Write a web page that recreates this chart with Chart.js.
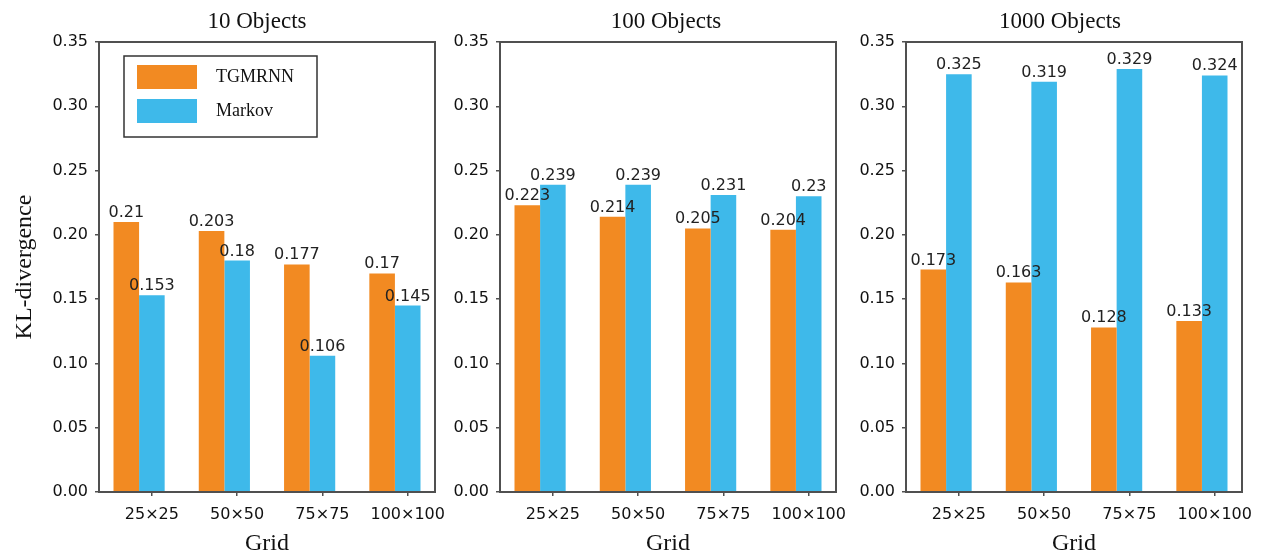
<!DOCTYPE html>
<html>
<head>
<meta charset="utf-8">
<script src="https://cdn.jsdelivr.net/npm/chart.js@4.4.1/dist/chart.umd.min.js"></script>
<style>
  html, body { margin: 0; padding: 0; background: #fff; overflow: hidden; }
  body { width: 1261px; height: 554px; position: relative; }
  .panel { position: absolute; top: 0; height: 554px; }
</style>
</head>
<body>
<div class="panel" id="p1" style="left:0px;width:515px;"><canvas id="c1"></canvas></div>
<div class="panel" id="p2" style="left:440px;width:452px;"><canvas id="c2"></canvas></div>
<div class="panel" id="p3" style="left:857px;width:406px;"><canvas id="c3"></canvas></div>
<script>
'use strict';
const gridLabels = ['25×25', '50×50', '75×75', '100×100'];
const panelTitles = ['10 Objects', '100 Objects', '1000 Objects'];
const seriesNames = ['TGMRNN', 'Markov'];
const tgmrnn10 = [0.21, 0.203, 0.177, 0.17];
const markov10 = [0.153, 0.18, 0.106, 0.145];
const tgmrnn100 = [0.223, 0.214, 0.205, 0.204];
const markov100 = [0.239, 0.239, 0.231, 0.23];
const tgmrnn1000 = [0.173, 0.163, 0.128, 0.133];
const markov1000 = [0.325, 0.319, 0.329, 0.324];
const yTicks = [0, 0.05, 0.1, 0.15, 0.2, 0.25, 0.3, 0.35];

const orange = '#f28a22';
const blue = '#3eb9ea';
const axisColor = '#505050';

// box around the plot area
const framePlugin = {
  id: 'frame',
  afterDatasetsDraw(chart) {
    const a = chart.chartArea;
    const ctx = chart.ctx;
    ctx.save();
    ctx.strokeStyle = axisColor;
    ctx.lineWidth = 2;
    ctx.strokeRect(a.left, a.top, a.right - a.left, a.bottom - a.top);
    ctx.restore();
  }
};

// value on top of every bar
const valuePlugin = {
  id: 'values',
  afterDatasetsDraw(chart) {
    const ctx = chart.ctx;
    ctx.save();
    ctx.font = '16px "DejaVu Sans"';
    ctx.fillStyle = '#222';
    ctx.textAlign = 'center';
    ctx.textBaseline = 'alphabetic';
    chart.data.datasets.forEach((ds, i) => {
      chart.getDatasetMeta(i).data.forEach((bar, j) => {
        ctx.fillText(String(ds.data[j].y), bar.x, bar.y - 5);
      });
    });
    ctx.restore();
  }
};

// move the title so it sits where the original has it
const titleShiftPlugin = {
  id: 'titleShift',
  afterLayout(chart, args, opts) {
    const t = chart.titleBlock;
    if (!t || opts.center === undefined) return;
    const half = (t.right - t.left) / 2;
    t.left = opts.center - half;
    t.right = opts.center + half;
  }
};

// boxed legend in the upper left of the first panel
const boxLegendPlugin = {
  id: 'boxLegend',
  afterDraw(chart) {
    const a = chart.chartArea;
    const ctx = chart.ctx;
    const x = a.left + 25;
    const y = a.top + 14;
    ctx.save();
    ctx.fillStyle = '#fff';
    ctx.fillRect(x, y, 193, 81);
    ctx.strokeStyle = '#333';
    ctx.lineWidth = 1.5;
    ctx.strokeRect(x, y, 193, 81);
    ctx.font = '18px "Liberation Serif"';
    ctx.textBaseline = 'middle';
    chart.data.datasets.forEach((ds, i) => {
      const py = y + 9 + i * 34;
      ctx.fillStyle = ds.backgroundColor;
      ctx.fillRect(x + 13, py, 60, 24);
      ctx.fillStyle = '#111';
      ctx.fillText(ds.label, x + 92, py + 12);
    });
    ctx.restore();
  }
};

function makePanel(canvasId, title, tgmrnn, markov, yWidth, rightPad, titleCenter, withYTitle, withLegend) {
  const plugins = [framePlugin, valuePlugin, titleShiftPlugin];
  if (withLegend) plugins.push(boxLegendPlugin);
  const config = {
    type: 'bar',
    data: {
      datasets: [
        {
          label: seriesNames[0],
          data: tgmrnn.map((v, i) => ({ x: i, y: v })),
          backgroundColor: orange,
          borderWidth: 0,
        },
        {
          label: seriesNames[1],
          data: markov.map((v, i) => ({ x: i, y: v })),
          backgroundColor: blue,
          borderWidth: 0,
        },
      ],
    },
    options: {
      responsive: true,
      maintainAspectRatio: false,
      animation: false,
      datasets: { bar: { categoryPercentage: 0.6, barPercentage: 1.0 } },
      layout: { padding: { left: 0, right: rightPad, top: 0, bottom: 0 } },
      plugins: {
        legend: { display: false },
        tooltip: { enabled: false },
        titleShift: { center: titleCenter },
        title: {
          display: true,
          text: title,
          color: '#111',
          font: { family: 'Liberation Serif', size: 23, weight: 'normal', lineHeight: 1.2 },
          padding: { top: 8, bottom: 6.4 },
        },
      },
      scales: {
        x: {
          type: 'linear',
          min: -0.47,
          max: 3.47,
          offset: false,
          bounds: 'data',
          afterBuildTicks(scale) {
            scale.ticks = gridLabels.map((l, i) => ({ value: i + 0.15 }));
          },
          afterFit(scale) { scale.height = 62; },
          ticks: {
            callback: (value, index) => gridLabels[index],
            color: '#111',
            font: { family: 'DejaVu Sans', size: 16 },
            padding: 9,
            maxRotation: 0,
            autoSkip: false,
          },
          grid: { offset: false, drawOnChartArea: false, drawTicks: true, tickLength: 4, color: axisColor, lineWidth: 1.5 },
          border: { display: false },
          title: {
            display: true,
            text: 'Grid',
            color: '#111',
            font: { family: 'Liberation Serif', size: 24, lineHeight: 1 },
            padding: { top: 0, bottom: -2 },
          },
        },
        y: {
          min: 0,
          max: 0.35,
          afterBuildTicks(scale) {
            scale.ticks = yTicks.map(v => ({ value: v }));
          },
          afterFit(scale) { scale.width = yWidth; },
          ticks: {
            callback: value => value.toFixed(2),
            color: '#111',
            font: { family: 'DejaVu Sans', size: 16 },
            padding: 7,
          },
          grid: { drawOnChartArea: false, drawTicks: true, tickLength: 4, color: axisColor, lineWidth: 1.5 },
          border: { display: false },
          title: {
            display: withYTitle,
            text: 'KL-divergence',
            color: '#111',
            font: { family: 'Liberation Serif', size: 24, lineHeight: 1 },
            padding: { top: 13, bottom: 0 },
          },
        },
      },
    },
    plugins: plugins,
  };
  return new Chart(document.getElementById(canvasId), config);
}

makePanel('c1', panelTitles[0], tgmrnn10, markov10, 99, 80, 257, true, true);
makePanel('c2', panelTitles[1], tgmrnn100, markov100, 60, 56, 226, false, false);
makePanel('c3', panelTitles[2], tgmrnn1000, markov1000, 49, 21, 203, false, false);
</script>
</body>
</html>
